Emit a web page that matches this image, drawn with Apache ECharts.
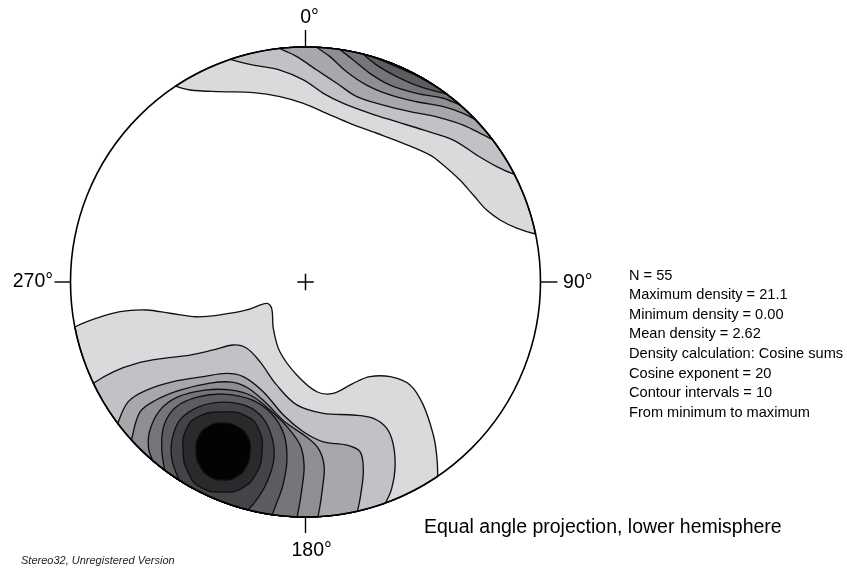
<!DOCTYPE html>
<html>
<head>
<meta charset="utf-8">
<script src="https://cdn.jsdelivr.net/npm/echarts@6/dist/echarts.min.js"></script>
<style>
  html, body { margin: 0; padding: 0; background: #ffffff; }
  #chart { width: 847px; height: 569px; }
</style>
</head>
<body>
<div id="chart"></div>
<script>
// Net radius in plot units; x points east, y points north.
const NET_RADIUS = 100;

// Density contours of the northern cluster, each running rim to rim (west -> east).
const northContours = [
  [[-55.1, 83.0], [-49.1, 81.7], [-36.4, 81.0], [-22.2, 80.6], [-10.9, 78.9], [-0.9, 76.0], [9.0, 71.8], [18.9, 67.5], [30.3, 63.3], [41.6, 59.0], [53.0, 54.0], [58.6, 49.8], [65.7, 43.4], [71.4, 37.0], [77.1, 30.6], [82.8, 26.4], [89.9, 22.9], [97.7, 20.4]],
  [[-32.1, 94.8], [-22.2, 92.3], [-10.9, 90.2], [-0.9, 86.0], [7.6, 80.3], [16.1, 76.0], [27.4, 71.8], [38.8, 68.2], [50.1, 64.7], [62.9, 60.4], [72.9, 54.0], [81.4, 49.1], [88.4, 45.5]],
  [[-10.9, 99.0], [-3.7, 95.9], [4.8, 90.2], [13.3, 84.6], [21.8, 78.9], [33.1, 75.3], [44.5, 72.5], [55.8, 70.3], [67.1, 66.8], [75.7, 62.6], [79.2, 60.4]],
  [[4.8, 99.9], [10.4, 95.9], [17.5, 89.5], [26.0, 83.8], [36.0, 79.6], [47.3, 76.7], [58.6, 74.6], [67.1, 71.8], [72.1, 68.9]],
  [[14.7, 99.0], [20.3, 94.5], [27.4, 88.8], [36.0, 83.8], [47.3, 80.3], [58.6, 78.2], [65.7, 75.3]],
  [[24.6, 96.6], [30.3, 92.3], [38.8, 87.4], [48.7, 83.1], [60.1, 80.3]],
  [[30.0, 95.5], [38.1, 91.9], [46.6, 88.1], [56.0, 83.4]],
  [[36.8, 93.0], [42.3, 90.6], [49.1, 87.1]]
];
const northLevels = [1, 2, 3, 4, 5, 6, 7, 8];

// Southern cluster: contours meeting the rim, then closed contours around the maximum.
const southRimContours = [
  [[-97.4, -19.0], [-88.9, -15.4], [-78.9, -12.6], [-67.6, -11.9], [-57.7, -13.3], [-46.3, -14.8], [-36.4, -14.0], [-25.0, -11.9], [-16.5, -9.1], [-14.4, -11.2], [-13.7, -19.7], [-10.9, -29.7], [-3.7, -39.6], [4.8, -46.7], [11.8, -47.4], [20.3, -43.1], [27.4, -40.3], [36.0, -40.3], [44.5, -43.8], [50.1, -52.3], [54.4, -65.1], [55.8, -73.6], [55.8, -82.1]],
  [[-90.0, -43.0], [-81.8, -38.2], [-71.8, -34.6], [-60.5, -32.5], [-49.1, -31.1], [-39.2, -28.9], [-30.7, -26.8], [-25.0, -28.2], [-19.4, -33.9], [-12.3, -43.8], [-3.7, -52.3], [7.6, -55.9], [20.3, -56.6], [28.9, -58.0], [34.6, -62.3], [37.4, -69.4], [38.1, -79.3], [36.7, -87.8], [33.8, -93.5]],
  [[-78.9, -59.4], [-75.4, -50.9], [-67.6, -46.0], [-56.3, -42.4], [-43.5, -40.3], [-33.5, -38.9], [-26.5, -40.3], [-18.0, -46.7], [-9.4, -56.6], [-0.9, -63.7], [7.6, -68.0], [17.5, -69.4], [23.2, -72.2], [24.6, -79.3], [23.9, -87.8], [21.8, -96.3]],
  [[-74.0, -67.2], [-70.4, -55.3], [-63.6, -50.2], [-53.4, -46.0], [-40.6, -43.0], [-31.3, -42.6], [-24.5, -45.1], [-17.2, -51.1], [-8.7, -59.6], [-0.2, -65.5], [5.3, -70.6], [7.9, -77.9], [7.4, -86.4], [5.3, -99.6]],
  [[-65.3, -76.2], [-66.8, -70.6], [-66.2, -63.0], [-61.9, -54.5], [-54.3, -48.9], [-42.8, -46.0], [-31.3, -46.0], [-22.8, -48.5], [-15.1, -54.5], [-7.4, -62.1], [-2.3, -69.4], [-0.6, -77.9], [-1.5, -87.7], [-3.6, -99.9]],
  [[-59.8, -80.0], [-61.2, -70.6], [-60.2, -60.9], [-55.1, -53.2], [-45.7, -48.9], [-34.3, -47.7], [-22.8, -50.2], [-14.3, -56.2], [-9.1, -65.1], [-7.9, -75.7], [-9.6, -86.4], [-12.6, -94.9], [-14.3, -99.0]],
  [[-53.8, -84.3], [-56.8, -75.7], [-56.8, -67.2], [-53.4, -58.7], [-45.7, -53.2], [-35.5, -51.1], [-24.9, -52.8], [-18.1, -57.9], [-14.3, -66.0], [-13.4, -74.9], [-16.0, -84.3], [-20.2, -91.9], [-24.5, -97.0]]
];
const southRimLevels = [1, 2, 3, 4, 5, 6, 7];

const southClosedContours = [
  [[-52.1, -71.9], [-50.9, -63.0], [-45.7, -57.4], [-35.5, -55.3], [-25.3, -57.0], [-19.8, -63.0], [-18.5, -72.3], [-21.1, -81.7], [-27.0, -87.7], [-35.5, -89.4], [-44.9, -87.2], [-50.0, -80.9]],
  [[-46.6, -72.3], [-45.3, -65.5], [-41.1, -61.3], [-35.1, -60.0], [-28.7, -61.7], [-24.5, -66.0], [-23.6, -72.3], [-25.3, -78.7], [-29.6, -83.0], [-35.1, -84.3], [-41.1, -82.6], [-44.9, -78.3]]
];
const southClosedLevels = [8, 9];

// Fill for each density band, lowest contour first.
const bandFills = ['#dadadc', '#c1c2c5', '#a7a8ac', '#8e8f93', '#75767a', '#5c5d61', '#434447', '#2a2a2c', '#030303'];

const azimuthLabels = ['0°', '90°', '180°', '270°'];
const statLines = [
  'N = 55',
  'Maximum density = 21.1',
  'Minimum density = 0.00',
  'Mean density = 2.62',
  'Density calculation: Cosine sums',
  'Cosine exponent = 20',
  'Contour intervals = 10',
  'From minimum to maximum'
];
const projectionNote = 'Equal angle projection, lower hemisphere';
const footerNote = 'Stereo32, Unregistered Version';

// Close a rim-to-rim contour by following the primitive circle along the shorter arc.
function closeOnRim(line) {
  const pts = line.map(p => p.slice());
  const snap = p => {
    const r = Math.hypot(p[0], p[1]);
    return [p[0] * NET_RADIUS / r, p[1] * NET_RADIUS / r];
  };
  pts[0] = snap(pts[0]);
  pts[pts.length - 1] = snap(pts[pts.length - 1]);
  const last = pts[pts.length - 1];
  const a0 = Math.atan2(last[1], last[0]);
  const a1 = Math.atan2(pts[0][1], pts[0][0]);
  let d = a1 - a0;
  while (d > Math.PI) d -= 2 * Math.PI;
  while (d < -Math.PI) d += 2 * Math.PI;
  const steps = Math.max(2, Math.ceil(Math.abs(d) / (Math.PI / 360)));
  for (let i = 1; i < steps; i++) {
    const a = a0 + d * i / steps;
    pts.push([NET_RADIUS * Math.cos(a), NET_RADIUS * Math.sin(a)]);
  }
  return pts;
}

const contourShapes = [];
northContours.forEach((c, i) => contourShapes.push({ ring: closeOnRim(c), level: northLevels[i], smooth: 0.35 }));
southRimContours.forEach((c, i) => contourShapes.push({ ring: closeOnRim(c), level: southRimLevels[i], smooth: 0.35 }));
southClosedContours.forEach((c, i) => contourShapes.push({ ring: c, level: southClosedLevels[i], smooth: 0.5 }));

const labelFont = '"Liberation Sans", Arial, sans-serif';

const chart = echarts.init(document.getElementById('chart'), null, { renderer: 'canvas' });

const azimuthMarks = [
  { tick: [[0, 100], [0, 107.2]], text: azimuthLabels[0], at: [1.7, 112.3], align: 'center' },
  { tick: [[100, 0], [107.2, 0]], text: azimuthLabels[1], at: [109.6, -0.2], align: 'left' },
  { tick: [[0, -100], [0, -106.8]], text: azimuthLabels[2], at: [2.6, -114.4], align: 'center' },
  { tick: [[-100, 0], [-106.8, 0]], text: azimuthLabels[3], at: [-107.4, 0.1], align: 'right' }
];

chart.setOption({
  animation: false,
  backgroundColor: '#ffffff',
  grid: { left: 70.5, top: 47, width: 470, height: 470, show: false },
  xAxis: { type: 'value', min: -NET_RADIUS, max: NET_RADIUS, show: false },
  yAxis: { type: 'value', min: -NET_RADIUS, max: NET_RADIUS, show: false },
  series: [
    {
      type: 'custom',
      coordinateSystem: 'cartesian2d',
      clip: false,
      silent: true,
      z: 2,
      data: contourShapes.map((s, i) => [i]),
      renderItem: function (params, api) {
        const s = contourShapes[params.dataIndex];
        return {
          type: 'polygon',
          shape: { points: s.ring.map(p => api.coord(p)), smooth: s.smooth },
          style: { fill: bandFills[s.level - 1], stroke: '#111111', lineWidth: 1.35 }
        };
      }
    },
    {
      type: 'custom',
      coordinateSystem: 'cartesian2d',
      clip: false,
      silent: true,
      z: 5,
      data: [[0]],
      renderItem: function (params, api) {
        const c = api.coord([0, 0]);
        const r = api.size([NET_RADIUS, 0])[0];
        const cross = 3.5;
        const children = [
          { type: 'circle', shape: { cx: c[0], cy: c[1], r: r }, style: { fill: 'none', stroke: '#000', lineWidth: 1.6 } },
          { type: 'line', shape: { x1: api.coord([-cross, 0])[0], y1: c[1], x2: api.coord([cross, 0])[0], y2: c[1] }, style: { stroke: '#000', lineWidth: 1.5 } },
          { type: 'line', shape: { x1: c[0], y1: api.coord([0, -cross])[1], x2: c[0], y2: api.coord([0, cross])[1] }, style: { stroke: '#000', lineWidth: 1.5 } }
        ];
        azimuthMarks.forEach(m => {
          const a = api.coord(m.tick[0]);
          const b = api.coord(m.tick[1]);
          children.push({ type: 'line', shape: { x1: a[0], y1: a[1], x2: b[0], y2: b[1] }, style: { stroke: '#000', lineWidth: 1.4 } });
          const t = api.coord(m.at);
          children.push({
            type: 'text', x: t[0], y: t[1],
            style: { text: m.text, fill: '#000', font: '19.5px ' + labelFont, align: m.align, verticalAlign: 'middle' }
          });
        });
        return { type: 'group', children: children };
      }
    }
  ],
  graphic: [
    {
      type: 'group', left: 629, top: 268,
      children: statLines.map((line, i) => ({
        type: 'text', x: 0, y: i * 19.6,
        style: { text: line, fill: '#000', font: '14.6px ' + labelFont }
      }))
    },
    { type: 'text', left: 424, top: 518, style: { text: projectionNote, fill: '#000', font: '19.5px ' + labelFont } },
    { type: 'text', left: 21, top: 555, style: { text: footerNote, fill: '#222', font: 'italic 11px ' + labelFont } }
  ]
});
</script>
</body>
</html>
